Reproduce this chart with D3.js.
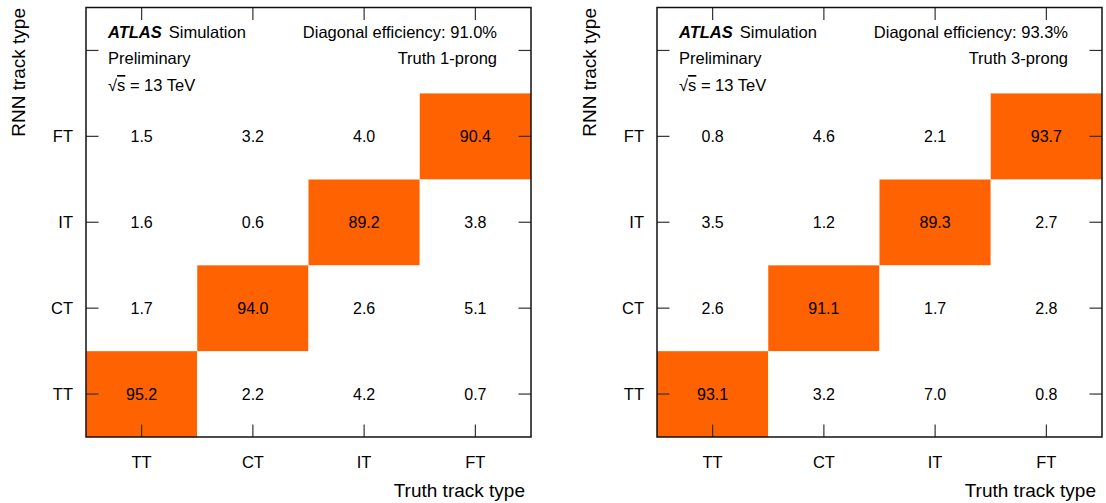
<!DOCTYPE html>
<html><head><meta charset="utf-8">
<script src="https://cdn.jsdelivr.net/npm/d3@7"></script>
<style>
html,body{margin:0;padding:0;background:#fff;}
svg text{font-family:"Liberation Sans",Arial,Helvetica,sans-serif;fill:#000;}
</style></head>
<body>
<svg id="chart" width="1106" height="503"></svg>
<script>
// Data
const truthTypes = ["TT", "CT", "IT", "FT"];   // x categories
const rnnTypes = ["TT", "CT", "IT", "FT"];     // y categories (bottom to top)
// values[rnnIndex][truthIndex]
const values1prong = [
  [95.2, 2.2, 4.2, 0.7],   // RNN TT
  [1.7, 94.0, 2.6, 5.1],   // RNN CT
  [1.6, 0.6, 89.2, 3.8],   // RNN IT
  [1.5, 3.2, 4.0, 90.4]    // RNN FT
];
const values3prong = [
  [93.1, 3.2, 7.0, 0.8],
  [2.6, 91.1, 1.7, 2.8],
  [3.5, 1.2, 89.3, 2.7],
  [0.8, 4.6, 2.1, 93.7]
];
const panels = [
  {values: values1prong, eff: "Diagonal efficiency: 91.0%", label: "Truth 1-prong"},
  {values: values3prong, eff: "Diagonal efficiency: 93.3%", label: "Truth 3-prong"}
];
const xTitle = "Truth track type";
const yTitle = "RNN track type";

(function(){
const svg = d3.select("#chart");
const panelLefts = [86, 657];
const W = 445, plotTop = 7.5, plotBottom = 437;
const yBands = rnnTypes.concat([""]); // extra empty band on top

const color = d3.scaleThreshold().domain([50]).range(["#ffffff", "#ff6200"]);

panels.forEach((p, pi) => {
  const x0 = panelLefts[pi];
  const g = svg.append("g");
  const x = d3.scaleBand().domain(truthTypes).range([x0, x0 + W]);
  const y = d3.scaleBand().domain(yBands.map((d,i)=>i)).range([plotBottom, plotTop]);

  const cells = [];
  p.values.forEach((row, ri) => row.forEach((v, ci) => cells.push({ri, ci, v})));
  g.selectAll("rect.cell").data(cells).join("rect")
    .attr("class", "cell")
    .attr("x", d => x(truthTypes[d.ci]))
    .attr("y", d => y(d.ri))
    .attr("width", x.bandwidth())
    .attr("height", y.bandwidth())
    .attr("fill", d => color(d.v));

  g.selectAll("text.val").data(cells).join("text")
    .attr("class", "val")
    .attr("x", d => x(truthTypes[d.ci]) + x.bandwidth()/2)
    .attr("y", d => y(d.ri) + y.bandwidth()/2)
    .attr("dy", "0.35em")
    .attr("text-anchor", "middle")
    .style("font-size", "16px")
    .text(d => d.v.toFixed(1));

  const tl = 12.5;
  const tickG = g.append("g").attr("stroke", "#333").attr("stroke-width", 1.2);
  truthTypes.forEach(t => {
    const cx = x(t) + x.bandwidth()/2;
    tickG.append("line").attr("x1", cx).attr("x2", cx).attr("y1", plotBottom).attr("y2", plotBottom - tl);
    tickG.append("line").attr("x1", cx).attr("x2", cx).attr("y1", plotTop).attr("y2", plotTop + tl);
  });
  yBands.forEach((t, i) => {
    const cy = y(i) + y.bandwidth()/2;
    tickG.append("line").attr("x1", x0).attr("x2", x0 + tl).attr("y1", cy).attr("y2", cy);
    tickG.append("line").attr("x1", x0 + W).attr("x2", x0 + W - tl).attr("y1", cy).attr("y2", cy);
  });

  g.append("rect").attr("x", x0).attr("y", plotTop).attr("width", W).attr("height", plotBottom - plotTop)
    .attr("fill", "none").attr("stroke", "#111").attr("stroke-width", 1.5);

  truthTypes.forEach(t => {
    g.append("text").attr("x", x(t) + x.bandwidth()/2).attr("y", 468)
      .attr("text-anchor", "middle").style("font-size", "16.5px").text(t);
  });
  rnnTypes.forEach((t, i) => {
    g.append("text").attr("x", x0 - 13).attr("y", y(i) + y.bandwidth()/2).attr("dy", "0.35em")
      .attr("text-anchor", "end").style("font-size", "16.5px").text(t);
  });

  g.append("text").attr("x", x0 + W - 6).attr("y", 497).attr("text-anchor", "end")
    .style("font-size", "19px").text(xTitle);
  g.append("text").attr("transform", `translate(${x0 - 61},8) rotate(-90)`)
    .attr("text-anchor", "end").style("font-size", "19px").text(yTitle);

  const lx = x0 + 22;
  const fs = "16.5px";
  const t1 = g.append("text").attr("x", lx).attr("y", 38).style("font-size", fs);
  t1.append("tspan").style("font-weight", "bold").style("font-style", "italic").text("ATLAS");
  t1.append("tspan").attr("dx", 7).text("Simulation");
  g.append("text").attr("x", lx).attr("y", 64).style("font-size", fs).text("Preliminary");
  const t3 = g.append("text").attr("x", lx).attr("y", 91).style("font-size", fs);
  t3.append("tspan").text("√");
  t3.append("tspan").style("text-decoration", "overline").text("s");
  t3.append("tspan").text(" = 13 TeV");

  g.append("text").attr("x", x0 + W - 34).attr("y", 38).attr("text-anchor", "end")
    .style("font-size", fs).text(p.eff);
  g.append("text").attr("x", x0 + W - 34).attr("y", 64).attr("text-anchor", "end")
    .style("font-size", fs).text(p.label);
});
})();
</script>
</body></html>
